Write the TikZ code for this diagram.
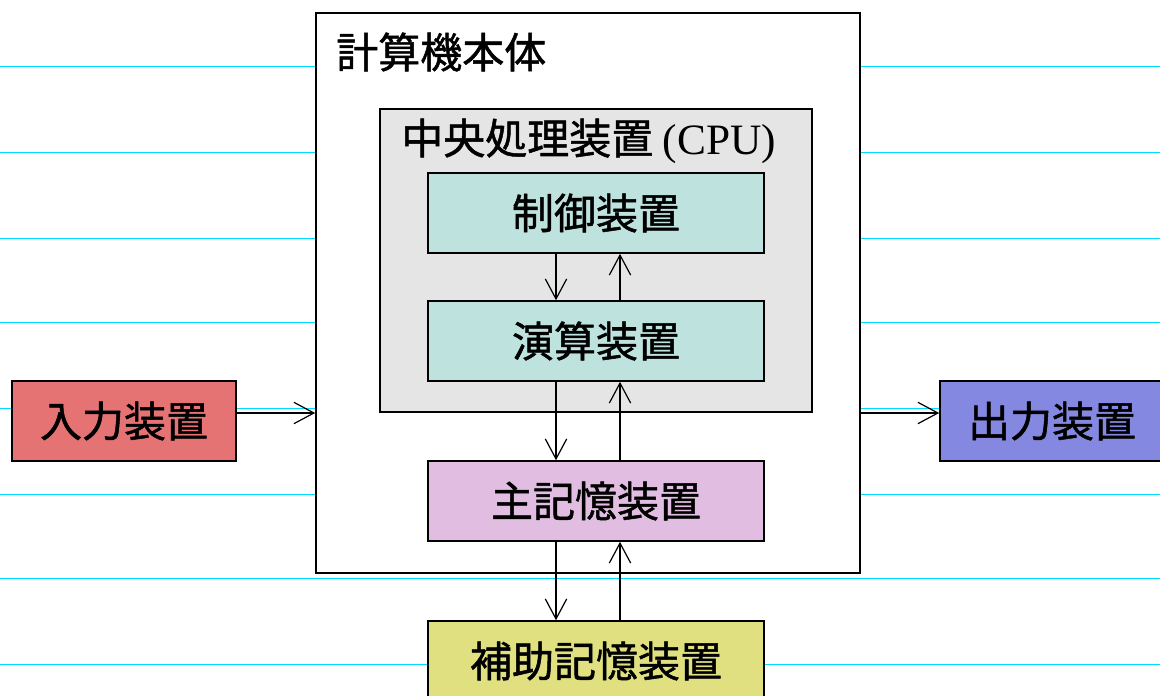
\documentclass[tikz,border=0pt]{standalone}
\usepackage{fontspec}
\setmainfont{Liberation Serif}
\newfontfamily\jp[FakeBold=1.2]{Noto Sans CJK JP}
\usetikzlibrary{arrows.meta}
\definecolor{inred}{RGB}{229,115,115}
\definecolor{outblue}{RGB}{132,136,224}
\definecolor{teal}{RGB}{190,226,222}
\definecolor{cpugray}{RGB}{229,229,229}
\definecolor{mempink}{RGB}{225,190,225}
\definecolor{auxyel}{RGB}{225,224,128}
\definecolor{gridcyan}{RGB}{0,220,255}
\newcommand{\jpsize}{\jp\fontsize{31.5}{32}\selectfont}
\begin{document}
\begin{tikzpicture}[x=0.75pt,y=-0.75pt,
  box/.style={draw=black,line width=1.2pt,inner sep=0pt},
  unit/.style={box,minimum width=252pt,minimum height=60pt,font=\jpsize},
  title/.style={anchor=west,inner sep=0pt,font=\jpsize},
  arr/.style={line width=0.9pt,-{Straight Barb[length=15pt,width=16pt,line width=0.9pt]}},
  bgline/.style={gridcyan,line width=0.75pt}]
\useasboundingbox (0,0) rectangle (1160,696);
% background lines
\foreach \yy in {66,152,238,322,408,494,578,664}
  \draw[bgline] (0,\yy) -- (1160,\yy);
% main body
\node[box,fill=white,minimum width=408pt,minimum height=420pt] (body) at (588,293) {};
\node[title] (bodytitle) at (336,52) {計算機本体};
% CPU
\node[box,fill=cpugray,minimum width=324pt,minimum height=227pt] (cpu) at (596,260.5) {};
\node[title] (cputitle) at (401,141) {中央処理装置\ \fontspec{Liberation Serif}\fontsize{32.5}{33}\selectfont(CPU)};
% units
\node[unit,fill=teal] (ctrl) at (596,213) {制御装置};
\node[unit,fill=teal] (alu) at (596,341) {演算装置};
\node[unit,fill=mempink] (mem) at (596,501) {主記憶装置};
\node[unit,fill=auxyel] (aux) at (596,661) {補助記憶装置};
\node[box,fill=inred,minimum width=168pt,minimum height=60pt,font=\jpsize] (in) at (124,421) {入力装置};
\node[box,fill=outblue,minimum width=168pt,minimum height=60pt,font=\jpsize] (out) at (1052,421) {出力装置};
% arrows
\draw[arr] (ctrl.south -| 556,0) -- (alu.north -| 556,0);
\draw[arr] (alu.north -| 620,0) -- (ctrl.south -| 620,0);
\draw[arr] (alu.south -| 556,0) -- (mem.north -| 556,0);
\draw[arr] (mem.north -| 620,0) -- (alu.south -| 620,0);
\draw[arr] (mem.south -| 556,0) -- (aux.north -| 556,0);
\draw[arr] (aux.north -| 620,0) -- (mem.south -| 620,0);
\draw[arr] (in.east |- 0,413) -- (body.west |- 0,413);
\draw[arr] (body.east |- 0,413) -- (out.west |- 0,413);
\end{tikzpicture}
\end{document}
